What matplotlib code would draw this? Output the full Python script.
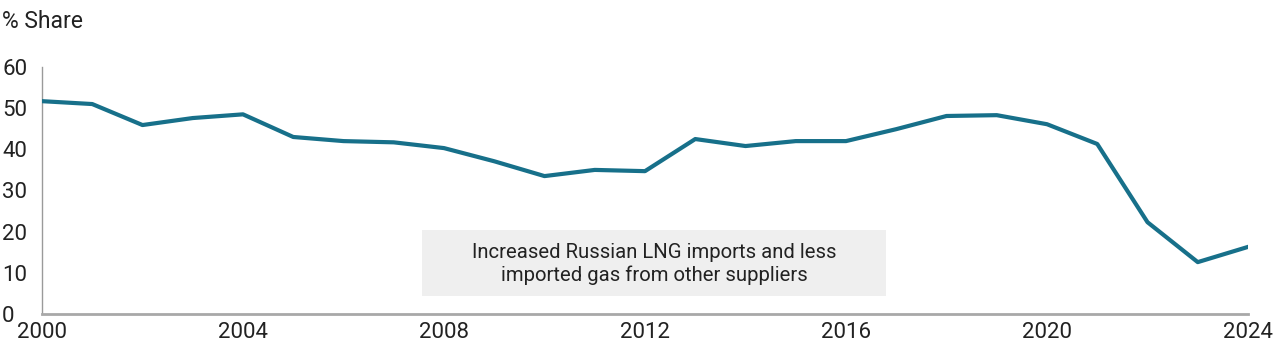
import matplotlib
matplotlib.use("Agg")
import matplotlib.pyplot as plt
from matplotlib.patches import Rectangle

years = list(range(2000, 2025))
share = [51.7, 51.0, 45.9, 47.6, 48.5, 43.0, 42.0, 41.7, 40.3, 37.1, 33.5, 35.0, 34.7,
         42.5, 40.8, 42.0, 42.0, 44.9, 48.1, 48.3, 46.1, 41.3, 22.3, 12.6, 16.3]
xticks = [2000, 2004, 2008, 2012, 2016, 2020, 2024]
yticks = [0, 10, 20, 30, 40, 50, 60]
y_label = "% Share"
note = "Increased Russian LNG imports and less\nimported gas from other suppliers"

plt.rcParams['font.family'] = ['Roboto', 'DejaVu Sans']
W, H = 1280, 362
fig = plt.figure(figsize=(W/100, H/100), dpi=100)
ax = fig.add_axes([42/W, (H-314)/H, (1248-42)/W, (314-67)/H])

ax.plot(years, share, color='#17708a', lw=3, solid_joinstyle='round', zorder=3)
ax.set_xlim(2000, 2024)
ax.set_ylim(0, 60)
ax.set_xticks(xticks)
ax.set_yticks(yticks)
ax.tick_params(length=0, labelsize=16, colors='#222222')
ax.tick_params(axis='y', pad=28.8)
ax.tick_params(axis='x', pad=6)
for lab in ax.get_yticklabels():
    lab.set_ha('left')

for s in ['top', 'right']:
    ax.spines[s].set_visible(False)
ax.spines['left'].set_color('#9a9a9a')
ax.spines['left'].set_linewidth(1)
ax.spines['bottom'].set_color('#a8a8a8')
ax.spines['bottom'].set_linewidth(2)

# annotation box
ax.add_patch(Rectangle((2007.56, 4.4), 9.24, 16.0, facecolor='#efefef',
                       edgecolor='none', zorder=1))
ax.text(2012.18, 12.2, note, ha='center', va='center', fontsize=14.6,
        color='#222222', linespacing=1.25, zorder=2)

fig.text(2/W, 1 - 22/H, y_label, ha='left', va='center', fontsize=16.5, color='#222222')

fig.savefig('out.png', dpi=100)
